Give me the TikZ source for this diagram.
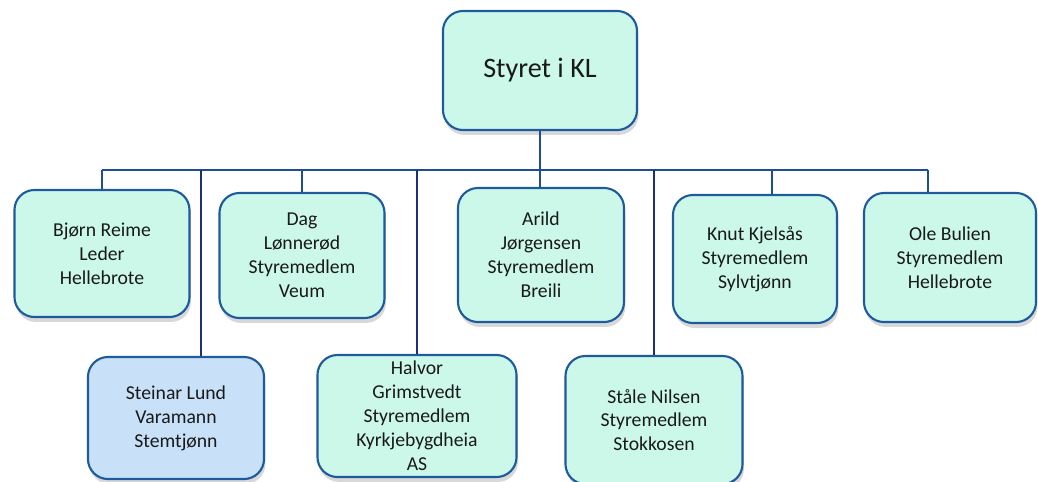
\documentclass[tikz,border=0pt]{standalone}
\usepackage{fontspec}
\setmainfont{Carlito}
\usepackage{xcolor}
\usepackage{tikz}
\usetikzlibrary{shadows}

\definecolor{mint}{HTML}{CCF8EA}
\definecolor{paleblue}{HTML}{C9E1F8}
\definecolor{boxline}{HTML}{1E5A9C}
\definecolor{busline}{HTML}{1F4C96}
\definecolor{darkline}{HTML}{1B2F7A}

\tikzset{
  member/.style={draw=boxline, line width=1.5pt, fill=mint, rounded corners=0.5cm,
    align=center, inner sep=0pt, text=black!90,
    font=\fontsize{14}{17}\selectfont,
    drop shadow={shadow xshift=1pt, shadow yshift=-3.5pt, opacity=0.3, fill=gray}},
  link/.style={draw=busline, line width=1.3pt},
  longlink/.style={draw=darkline, line width=1.5pt},
}

\begin{document}
\begin{tikzpicture}[x=0.025cm, y=-0.025cm]
  \useasboundingbox (0,0) rectangle (1038,481);
  \fill[white] (0,0) rectangle (1038,481);

  % board
  \node[member, minimum width=4.85cm, minimum height=2.975cm,
        font=\fontsize{20}{24}\selectfont] (board) at (540,70.5) {Styret i KL};

  % first row
  \node[member, minimum width=4.375cm, minimum height=3.175cm] (bjorn) at (102,253.5)
    {Bjørn Reime\\Leder\\Hellebrote};
  \node[member, minimum width=4.125cm, minimum height=3.125cm] (dag) at (302,255.5)
    {Dag\\Lønnerød\\Styremedlem\\Veum};
  \node[member, minimum width=4.15cm, minimum height=3.35cm] (arild) at (541,255)
    {Arild\\Jørgensen\\Styremedlem\\Breili};
  \node[member, minimum width=4.1cm, minimum height=3.2cm] (knut) at (755,259)
    {Knut Kjelsås\\Styremedlem\\Sylvtjønn};
  \node[member, minimum width=4.3cm, minimum height=3.225cm] (ole) at (950,257.5)
    {Ole Bulien\\Styremedlem\\Hellebrote};

  % second row
  \node[member, fill=paleblue, minimum width=4.4cm, minimum height=3.05cm] (steinar) at (176,418)
    {Steinar Lund\\Varamann\\Stemtjønn};
  \node[member, minimum width=4.975cm, minimum height=3.05cm] (halvor) at (417,416)
    {Halvor\\Grimstvedt\\Styremedlem\\Kyrkjebygdheia\\AS};
  \node[member, minimum width=4.425cm, minimum height=3.2cm] (stale) at (654,420)
    {Ståle Nilsen\\Styremedlem\\Stokkosen};

  % connectors
  \coordinate (busL) at (102,170);
  \coordinate (busR) at (928,170);
  \draw[link] (busL) -- (busR);
  \draw[link] (board.south) -- (board.south |- arild.north);
  \draw[link] (bjorn.north) -- (bjorn.north |- busL);
  \draw[link] (dag.north) -- (dag.north |- busL);
  \draw[link] ([xshift=0.425cm]knut.north) -- ([xshift=0.425cm]knut.north |- busL);
  \draw[link] ([xshift=-0.55cm]ole.north) -- ([xshift=-0.55cm]ole.north |- busL);
  \draw[longlink] ([xshift=0.625cm]steinar.north) -- ([xshift=0.625cm]steinar.north |- busL);
  \draw[longlink] (halvor.north) -- (halvor.north |- busL);
  \draw[longlink] (stale.north) -- (stale.north |- busL);
\end{tikzpicture}
\end{document}
